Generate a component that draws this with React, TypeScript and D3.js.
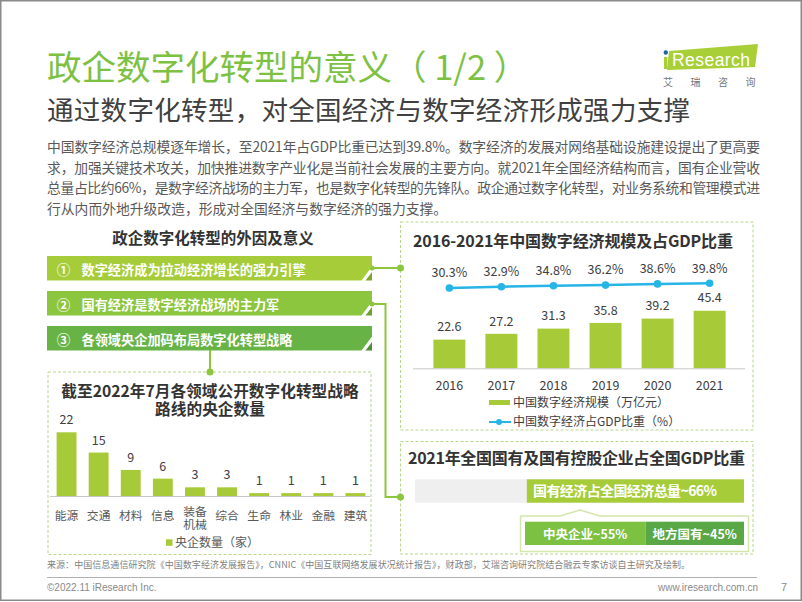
import React from 'react';
import * as d3 from 'd3';

// 2016-2021 digital economy
const years = ['2016', '2017', '2018', '2019', '2020', '2021'];
const scaleValues = [22.6, 27.2, 31.3, 35.8, 39.2, 45.4];
const gdpShare = [30.3, 32.9, 34.8, 36.2, 38.6, 39.8];

// central SOEs by sector (as of 2022.07)
const sectors = ['能源', '交通', '材料', '信息', '装备机械', '综合', '生命', '林业', '金融', '建筑'];
const sectorCounts = [22, 15, 9, 6, 3, 3, 1, 1, 1, 1];

// state-owned share of GDP, 2021
const stateShare = 66;
const centralShare = 55;
const localShare = 45;

const paragraph = [
  '中国数字经济总规模逐年增长，至2021年占GDP比重已达到39.8%。数字经济的发展对网络基础设施建设提出了更高要',
  '求，加强关键技术攻关，加快推进数字产业化是当前社会发展的主要方向。就2021年全国经济结构而言，国有企业营收',
  '总量占比约66%，是数字经济战场的主力军，也是数字化转型的先锋队。政企通过数字化转型，对业务系统和管理模式进',
  '行从内而外地升级改造，形成对全国经济与数字经济的强力支撑。',
];

const banners = ['数字经济成为拉动经济增长的强力引擎', '国有经济是数字经济战场的主力军', '各领域央企加码布局数字化转型战略'];
const bannerMarks = ['①', '②', '③'];

const CJK = '"Noto Sans CJK SC", "Noto Sans", sans-serif';
const LAT = '"Liberation Sans", Arial, sans-serif';
const GREEN = '#a7cb38';
const BORDER = '#b7d68c';

function App() {
  // right top chart
  const xYear = d3.scaleBand().domain(years).range([413.3, 745.7]).padding(0.386);
  const yScale = d3.scaleLinear().domain([0, 50]).range([368.3, 304.9]);
  const yShare = d3.scaleLinear().domain([0, 100]).range([303, 253.5]);
  const shareLine = d3
    .line<number>()
    .x((_, i) => (xYear(years[i]) as number) + xYear.bandwidth() / 2)
    .y((d) => yShare(d));

  // left bottom chart
  const xSector = d3.scaleBand().domain(sectors).range([50.5, 371.5]).paddingInner(0.38).paddingOuter(0.19);
  const yCount = d3.scaleLinear().domain([0, 22]).range([496, 432.3]);

  // state share bars
  const xState = d3.scaleLinear().domain([0, 100]).range([744, 415]);
  const xSplit = d3.scaleLinear().domain([0, 100]).range([525, 744]);

  const bannerColors = ['#a6cd39', '#8cc63f', '#67b346'];
  const notchColors = ['#7fa62a', '#6aa22e', '#4a8f35'];
  const bannerTops = [256, 291, 326];

  return (
    <svg
      width={802}
      height={602}
      style={{ position: 'absolute', left: 0, top: 0, display: 'block', background: '#fff' }}
    >
      <rect x={0.75} y={0.75} width={800.5} height={599.5} fill="#fff" stroke="#8a8a8a" strokeWidth={1.5} />

      {/* header */}
      <text x={47} y={80} fontFamily={CJK} fontSize={34.5} fill="#7dc142" xmlSpace="preserve">
        政企数字化转型的意义（ 1/2 ）
      </text>
      <text x={47} y={120} fontFamily={CJK} fontSize={26.5} fill="#404040" textLength={643}>
        通过数字化转型，对全国经济与数字经济形成强力支撑
      </text>

      {/* logo */}
      <polygon points="669,51 758,44 755,67 667,70" fill="#a9cf38" />
      <rect x={664} y={57} width={3.4} height={12} fill="#a9cf38" />
      <circle cx={665.8} cy={52.5} r={2.2} fill="#2660a8" />
      <text x={672} y={66} fontFamily={LAT} fontSize={17.5} fill="#fff" textLength={78}>
        Research
      </text>
      {['艾', '瑞', '咨', '询'].map((c, i) => (
        <text key={c} x={668 + i * 27.5} y={86} fontFamily={CJK} fontSize={10} fill="#777" textAnchor="middle">
          {c}
        </text>
      ))}

      {/* paragraph */}
      {paragraph.map((line, i) => (
        <text
          key={i}
          x={47}
          y={152 + i * 20.6}
          fontFamily={CJK}
          fontSize={13.8}
          fill="#595959"
          textLength={i < 3 ? 713 : undefined}
        >
          {line}
        </text>
      ))}

      {/* left header */}
      <text x={213} y={244} fontFamily={CJK} fontSize={15.5} fontWeight="bold" fill="#333" textAnchor="middle">
        政企数字化转型的外因及意义
      </text>

      {/* boxes */}
      <rect x={48} y={372} width={323} height={182.5} fill="none" stroke={BORDER} strokeDasharray="3 2" />
      <rect x={400.5} y={222} width={352.5} height={208} fill="#fff" stroke={BORDER} strokeDasharray="3 2" />
      <rect x={400.5} y={441.5} width={352.5} height={112.5} fill="#fff" stroke={BORDER} strokeDasharray="3 2" />

      {/* connectors */}
      <g stroke="#8cc63f" strokeWidth={2} fill="none">
        <path d="M372,268 H400" />
        <path d="M372,304 H385.5 V497 H400" />
        <path d="M210,350 V372" />
      </g>
      <g fill="#8cc63f">
        <circle cx={372} cy={268} r={2.5} />
        <circle cx={400.5} cy={268} r={3.5} />
        <circle cx={372} cy={304} r={2.5} />
        <circle cx={400.5} cy={497} r={3.5} />
        <circle cx={210} cy={372} r={3.5} />
      </g>

      {/* banners */}
      {banners.map((t, i) => {
        const y0 = bannerTops[i];
        const y1 = y0 + 24.5;
        return (
          <g key={t}>
            <path d={`M47,${y0} H372 V${y0 + 10.5} L361.5,${y1} H47 Z`} fill={bannerColors[i]} />
            <path d={`M372,${y0 + 16} V${y1} H365.5 Z`} fill={notchColors[i]} />
            <text x={63.5} y={y0 + 18.5} fontFamily={CJK} fontSize={13.5} fontWeight="bold" fill="#fff" textAnchor="middle">
              {bannerMarks[i]}
            </text>
            <text x={81.5} y={y0 + 18.5} fontFamily={CJK} fontSize={13.2} fontWeight="bold" fill="#fff">
              {t}
            </text>
          </g>
        );
      })}

      {/* right top chart */}
      <text x={413} y={247} fontFamily={CJK} fontSize={16} fontWeight="bold" fill="#333" textLength={320}>
        2016-2021年中国数字经济规模及占GDP比重
      </text>
      {years.map((yr, i) => {
        const x = xYear(yr) as number;
        const cx = x + xYear.bandwidth() / 2;
        return (
          <g key={yr}>
            <rect x={x} y={yScale(scaleValues[i])} width={xYear.bandwidth()} height={yScale(0) - yScale(scaleValues[i])} fill={GREEN} />
            <text x={cx} y={yScale(scaleValues[i]) - 8.3} fontFamily={CJK} fontSize={12.5} fill="#404040" textAnchor="middle">
              {scaleValues[i].toFixed(1)}
            </text>
            <text x={cx} y={389.5} fontFamily={CJK} fontSize={12.5} fill="#404040" textAnchor="middle">
              {yr}
            </text>
            <text x={cx} y={yShare(gdpShare[i]) - 10.7} fontFamily={CJK} fontSize={12.5} fill="#404040" textAnchor="middle">
              {gdpShare[i].toFixed(1)}%
            </text>
          </g>
        );
      })}
      <line x1={413} x2={745} y1={368.8} y2={368.8} stroke="#c8c8c8" />
      <path d={shareLine(gdpShare) || ''} fill="none" stroke="#27b4e6" strokeWidth={2.5} />
      {gdpShare.map((v, i) => (
        <circle key={i} cx={(xYear(years[i]) as number) + xYear.bandwidth() / 2} cy={yShare(v)} r={3.8} fill="#27b4e6" />
      ))}
      {/* legend */}
      <rect x={489} y={400} width={21} height={5} fill={GREEN} />
      <text x={513} y={407.2} fontFamily={CJK} fontSize={12} fill="#404040">
        中国数字经济规模（万亿元）
      </text>
      <line x1={489} x2={511} y1={422} y2={422} stroke="#27b4e6" strokeWidth={2} />
      <circle cx={499} cy={422} r={3} fill="#27b4e6" />
      <text x={513} y={426.4} fontFamily={CJK} fontSize={12} fill="#404040">
        中国数字经济占GDP比重（%）
      </text>

      {/* left bottom chart */}
      <text fontFamily={CJK} fontSize={15.7} fontWeight="bold" fill="#333" textAnchor="middle">
        <tspan x={210} y={396.5}>截至2022年7月各领域公开数字化转型战略</tspan>
        <tspan x={210} y={415}>路线的央企数量</tspan>
      </text>
      {sectors.map((s, i) => {
        const x = xSector(s) as number;
        const cx = x + xSector.bandwidth() / 2;
        const lines = s.length > 2 ? [s.slice(0, 2), s.slice(2)] : [s];
        return (
          <g key={s}>
            <rect x={x} y={yCount(sectorCounts[i])} width={xSector.bandwidth()} height={yCount(0) - yCount(sectorCounts[i])} fill={GREEN} />
            <text x={cx} y={yCount(sectorCounts[i]) - 8} fontFamily={CJK} fontSize={12.5} fill="#404040" textAnchor="middle">
              {sectorCounts[i]}
            </text>
            <text fontFamily={CJK} fontSize={11.8} fill="#595959" textAnchor="middle">
              {lines.map((l, j) => (
                <tspan key={l} x={cx} y={lines.length > 1 ? 515.5 + j * 13 : 520}>
                  {l}
                </tspan>
              ))}
            </text>
          </g>
        );
      })}
      <line x1={50} x2={370} y1={496.5} y2={496.5} stroke="#c8c8c8" />
      <rect x={166} y={539.3} width={6.5} height={6.5} fill={GREEN} />
      <text x={175} y={547} fontFamily={CJK} fontSize={12} fill="#595959">
        央企数量（家）
      </text>

      {/* right bottom */}
      <text x={408} y={464} fontFamily={CJK} fontSize={16} fontWeight="bold" fill="#333" textLength={337}>
        2021年全国国有及国有控股企业占全国GDP比重
      </text>
      <rect x={415} y={479.3} width={329} height={23.4} fill="#efefef" />
      <rect x={xState(stateShare)} y={479.3} width={xState(0) - xState(stateShare)} height={23.4} fill="#a6cd39" />
      <text x={533} y={496} fontFamily={CJK} fontSize={14} fontWeight="bold" fill="#fff" textLength={184}>
        国有经济占全国经济总量~{stateShare}%
      </text>
      <path d="M520.5,516 H560 L580,510 L600,516 H748.5 V551.5 H520.5 Z" fill="none" stroke="#d3e7ad" strokeWidth={1.5} />
      <rect x={xSplit(0)} y={521.7} width={xSplit(centralShare) - xSplit(0)} height={23.3} fill="#7dc142" />
      <rect x={xSplit(centralShare)} y={521.7} width={xSplit(centralShare + localShare) - xSplit(centralShare)} height={23.3} fill="#5aa845" />
      <text x={(xSplit(0) + xSplit(centralShare)) / 2} y={538.5} fontFamily={CJK} fontSize={12.5} fontWeight="bold" fill="#fff" textAnchor="middle">
        中央企业~{centralShare}%
      </text>
      <text x={(xSplit(centralShare) + xSplit(100)) / 2} y={538.5} fontFamily={CJK} fontSize={12.5} fontWeight="bold" fill="#fff" textAnchor="middle">
        地方国有~{localShare}%
      </text>

      {/* footer */}
      <text x={47} y={568} fontFamily={CJK} fontSize={9} fill="#7f7f7f" textLength={643}>
        来源：中国信息通信研究院《中国数字经济发展报告》，CNNIC《中国互联网络发展状况统计报告》，财政部，艾瑞咨询研究院结合融云专家访谈自主研究及绘制。
      </text>
      <line x1={47} x2={757} y1={577.5} y2={577.5} stroke="#b0b0b0" />
      <text x={47} y={591} fontFamily={LAT} fontSize={10} fill="#8a8a8a">
        ©2022.11 iResearch Inc.
      </text>
      <text x={758} y={591} fontFamily={LAT} fontSize={10} fill="#8a8a8a" textAnchor="end">
        www.iresearch.com.cn
      </text>
      <text x={784} y={591} fontFamily={LAT} fontSize={11} fill="#8a8a8a" textAnchor="middle">
        7
      </text>
    </svg>
  );
}

export default App;
